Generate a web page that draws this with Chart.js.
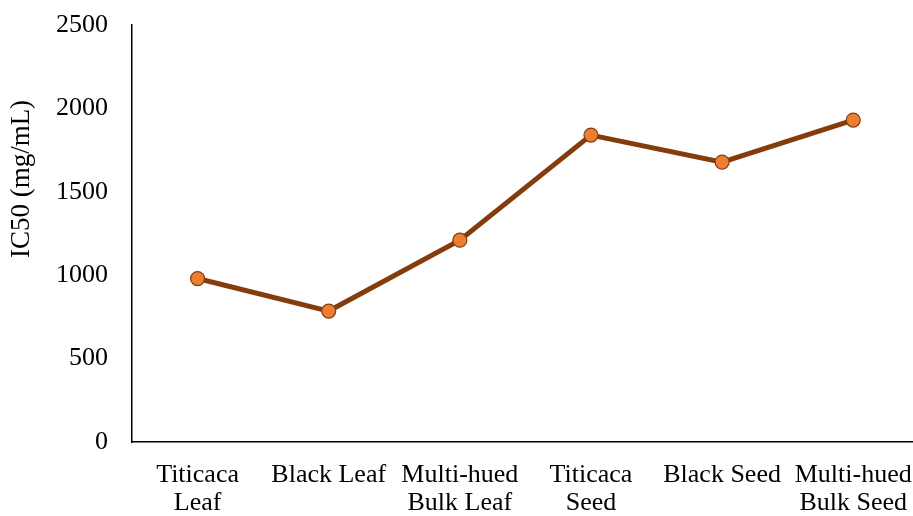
<!DOCTYPE html>
<html>
<head>
<meta charset="utf-8">
<script src="https://cdn.jsdelivr.net/npm/chart.js@4/dist/chart.umd.min.js"></script>
<style>
  html, body { margin: 0; padding: 0; background: #fff; overflow: hidden; }
  canvas { display: block; }
</style>
</head>
<body>
<canvas id="c" width="927" height="516"></canvas>
<script>
// Sample groups and their IC50 values (mg/mL)
const categories = [
  ['Titicaca', 'Leaf'],
  'Black Leaf',
  ['Multi-hued', 'Bulk Leaf'],
  ['Titicaca', 'Seed'],
  'Black Seed',
  ['Multi-hued', 'Bulk Seed']
];
const ic50Values = [980, 785, 1210, 1840, 1678, 1930];
const yTicks = [0, 500, 1000, 1500, 2000, 2500];
const yTitle = 'IC50 (mg/mL)';

const FONT = '"Liberation Serif", "Times New Roman", serif';

// Rotated y-axis title drawn next to the value labels
const yTitlePlugin = {
  id: 'yTitle',
  afterDraw(chart) {
    const ctx = chart.ctx;
    ctx.save();
    ctx.translate(22, 179);
    ctx.rotate(-Math.PI / 2);
    ctx.font = '27px ' + FONT;
    ctx.fillStyle = '#000';
    ctx.textAlign = 'center';
    ctx.textBaseline = 'middle';
    ctx.fillText(yTitle, 0, 0);
    ctx.restore();
  }
};

new Chart(document.getElementById('c'), {
  type: 'line',
  data: {
    labels: categories,
    datasets: [{
      data: ic50Values,
      borderColor: '#843C0C',
      borderWidth: 5,
      pointBackgroundColor: '#ED7D31',
      pointBorderColor: '#843C0C',
      pointBorderWidth: 1.2,
      pointRadius: 7,
      tension: 0,
      fill: false
    }]
  },
  options: {
    responsive: false,
    maintainAspectRatio: false,
    animation: false,
    devicePixelRatio: 1,
    layout: { padding: { top: 25, right: 0, bottom: 0, left: 0 } },
    plugins: {
      legend: { display: false },
      tooltip: { enabled: false }
    },
    scales: {
      x: {
        offset: true,
        grid: { display: false, drawTicks: false },
        border: { display: true, color: '#000', width: 1.5 },
        ticks: {
          color: '#000',
          font: { family: FONT, size: 26, lineHeight: 1.07 },
          padding: 19,
          maxRotation: 0,
          autoSkip: false
        },
        afterFit(scale) {
          scale.height = 74;
          scale.paddingLeft = 0;
          scale.paddingRight = 0;
        }
      },
      y: {
        min: 0,
        max: 2500,
        grid: { display: false, drawTicks: false },
        border: { display: true, color: '#000', width: 1.5 },
        afterBuildTicks(scale) { scale.ticks = yTicks.map(v => ({ value: v })); },
        ticks: {
          color: '#000',
          font: { family: FONT, size: 26 },
          padding: 24,
          callback: (v) => String(v)
        },
        afterFit(scale) {
          scale.width = 132;
          scale.paddingTop = 0;
          scale.paddingBottom = 0;
        }
      }
    }
  },
  plugins: [yTitlePlugin]
});
</script>
</body>
</html>
